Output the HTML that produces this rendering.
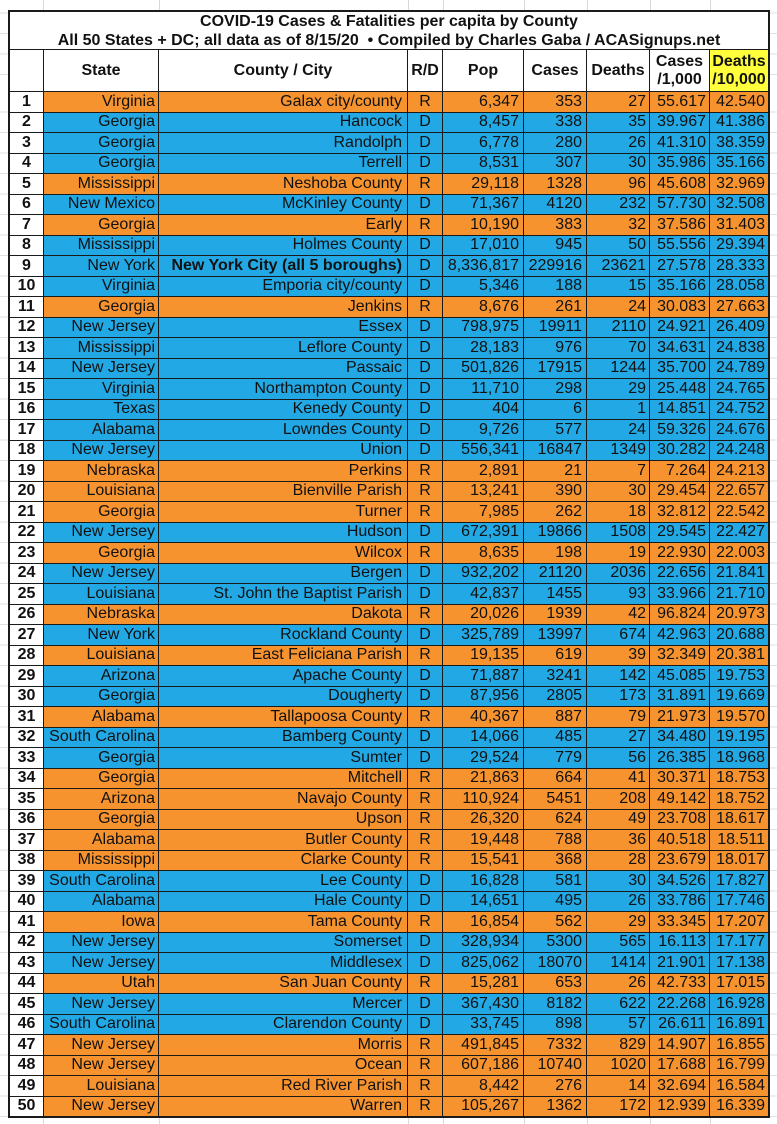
<!DOCTYPE html>
<html><head><meta charset="utf-8">
<style>
html,body{margin:0;padding:0;background:#fff;}
body{width:777px;height:1124px;position:relative;overflow:hidden;font-family:"Liberation Sans",Arial,sans-serif;color:#111;}
.g{position:absolute;background:#d9d9d9;}
#t{position:absolute;left:8px;top:10px;width:758px;height:1104px;border:2px solid #1a1a1a;background:#1a1a1a;display:grid;
grid-template-columns:33px 114px 248px 34px 80px 62px 62px 59px 58px;
grid-template-rows:37px 41px repeat(50,19.5px);gap:1px;}
#t>div.c0,#t>.r>div{background:#fff;display:flex;align-items:center;font-size:16px;white-space:nowrap;overflow:hidden;}
#t>.r{display:contents;}
#t>.r>div{justify-content:flex-end;padding-right:4px;box-sizing:border-box;}
#t>.r>div:nth-child(1){justify-content:center;padding:0;font-weight:bold;background:#fff;}
#t>.r>div:nth-child(4){justify-content:center;padding:0;}
#t>.r>div:nth-child(2){padding-right:3px;}
#t>.r>div:nth-child(3){padding-right:5px;}
#t>.r>div:nth-child(7),#t>.r>div:nth-child(8),#t>.r>div:nth-child(9){padding-right:3px;}
#t>.o>div{background:#F7932F;}
#t>.b>div{background:#22A8E4;}
#t>.o>div:nth-child(1),#t>.b>div:nth-child(1){background:#fff;}
#title{grid-column:1 / span 9;flex-direction:column;justify-content:center;text-align:center;font-weight:bold;line-height:19px;}
#t>div.h{justify-content:center;font-weight:bold;text-align:center;line-height:18px;}
#t>div.y{background:#FFFF3C;}
</style></head><body>
<div class="g" style="left:43px;top:0;width:1px;height:10px"></div>
<div class="g" style="left:159px;top:0;width:1px;height:10px"></div>
<div class="g" style="left:408px;top:0;width:1px;height:10px"></div>
<div class="g" style="left:443px;top:0;width:1px;height:10px"></div>
<div class="g" style="left:524px;top:0;width:1px;height:10px"></div>
<div class="g" style="left:587px;top:0;width:1px;height:10px"></div>
<div class="g" style="left:650px;top:0;width:1px;height:10px"></div>
<div class="g" style="left:710px;top:0;width:1px;height:10px"></div>
<div class="g" style="left:43px;top:1118px;width:1px;height:6px"></div>
<div class="g" style="left:159px;top:1118px;width:1px;height:6px"></div>
<div class="g" style="left:408px;top:1118px;width:1px;height:6px"></div>
<div class="g" style="left:443px;top:1118px;width:1px;height:6px"></div>
<div class="g" style="left:524px;top:1118px;width:1px;height:6px"></div>
<div class="g" style="left:587px;top:1118px;width:1px;height:6px"></div>
<div class="g" style="left:650px;top:1118px;width:1px;height:6px"></div>
<div class="g" style="left:710px;top:1118px;width:1px;height:6px"></div>
<div class="g" style="left:0;top:0;width:8px;height:1124px;background:repeating-linear-gradient(to bottom,transparent 0,transparent 19.5px,#d9d9d9 19.5px,#d9d9d9 20.5px);background-position:0 92px;opacity:.8"></div>
<div class="g" style="left:770px;top:0;width:7px;height:1124px;background:repeating-linear-gradient(to bottom,transparent 0,transparent 19.5px,#d9d9d9 19.5px,#d9d9d9 20.5px);background-position:0 92px;opacity:.8"></div>

<div id="t">
<div id="title" class="c0"><div>COVID-19 Cases &amp; Fatalities per capita by County</div><div>All 50 States + DC; all data as of 8/15/20&nbsp; • Compiled by Charles Gaba / ACASignups.net</div></div>
<div class="c0 h"></div><div class="c0 h">State</div><div class="c0 h">County / City</div><div class="c0 h">R/D</div><div class="c0 h">Pop</div><div class="c0 h">Cases</div><div class="c0 h">Deaths</div><div class="c0 h">Cases<br>/1,000</div><div class="c0 h y">Deaths<br>/10,000</div>

<div class="r o"><div>1</div><div>Virginia</div><div>Galax city/county</div><div>R</div><div>6,347</div><div>353</div><div>27</div><div>55.617</div><div>42.540</div></div>
<div class="r b"><div>2</div><div>Georgia</div><div>Hancock</div><div>D</div><div>8,457</div><div>338</div><div>35</div><div>39.967</div><div>41.386</div></div>
<div class="r b"><div>3</div><div>Georgia</div><div>Randolph</div><div>D</div><div>6,778</div><div>280</div><div>26</div><div>41.310</div><div>38.359</div></div>
<div class="r b"><div>4</div><div>Georgia</div><div>Terrell</div><div>D</div><div>8,531</div><div>307</div><div>30</div><div>35.986</div><div>35.166</div></div>
<div class="r o"><div>5</div><div>Mississippi</div><div>Neshoba County</div><div>R</div><div>29,118</div><div>1328</div><div>96</div><div>45.608</div><div>32.969</div></div>
<div class="r b"><div>6</div><div>New Mexico</div><div>McKinley County</div><div>D</div><div>71,367</div><div>4120</div><div>232</div><div>57.730</div><div>32.508</div></div>
<div class="r o"><div>7</div><div>Georgia</div><div>Early</div><div>R</div><div>10,190</div><div>383</div><div>32</div><div>37.586</div><div>31.403</div></div>
<div class="r b"><div>8</div><div>Mississippi</div><div>Holmes County</div><div>D</div><div>17,010</div><div>945</div><div>50</div><div>55.556</div><div>29.394</div></div>
<div class="r b"><div>9</div><div>New York</div><div style="font-weight:bold">New York City (all 5 boroughs)</div><div>D</div><div>8,336,817</div><div>229916</div><div>23621</div><div>27.578</div><div>28.333</div></div>
<div class="r b"><div>10</div><div>Virginia</div><div>Emporia city/county</div><div>D</div><div>5,346</div><div>188</div><div>15</div><div>35.166</div><div>28.058</div></div>
<div class="r o"><div>11</div><div>Georgia</div><div>Jenkins</div><div>R</div><div>8,676</div><div>261</div><div>24</div><div>30.083</div><div>27.663</div></div>
<div class="r b"><div>12</div><div>New Jersey</div><div>Essex</div><div>D</div><div>798,975</div><div>19911</div><div>2110</div><div>24.921</div><div>26.409</div></div>
<div class="r b"><div>13</div><div>Mississippi</div><div>Leflore County</div><div>D</div><div>28,183</div><div>976</div><div>70</div><div>34.631</div><div>24.838</div></div>
<div class="r b"><div>14</div><div>New Jersey</div><div>Passaic</div><div>D</div><div>501,826</div><div>17915</div><div>1244</div><div>35.700</div><div>24.789</div></div>
<div class="r b"><div>15</div><div>Virginia</div><div>Northampton County</div><div>D</div><div>11,710</div><div>298</div><div>29</div><div>25.448</div><div>24.765</div></div>
<div class="r b"><div>16</div><div>Texas</div><div>Kenedy County</div><div>D</div><div>404</div><div>6</div><div>1</div><div>14.851</div><div>24.752</div></div>
<div class="r b"><div>17</div><div>Alabama</div><div>Lowndes County</div><div>D</div><div>9,726</div><div>577</div><div>24</div><div>59.326</div><div>24.676</div></div>
<div class="r b"><div>18</div><div>New Jersey</div><div>Union</div><div>D</div><div>556,341</div><div>16847</div><div>1349</div><div>30.282</div><div>24.248</div></div>
<div class="r o"><div>19</div><div>Nebraska</div><div>Perkins</div><div>R</div><div>2,891</div><div>21</div><div>7</div><div>7.264</div><div>24.213</div></div>
<div class="r o"><div>20</div><div>Louisiana</div><div>Bienville Parish</div><div>R</div><div>13,241</div><div>390</div><div>30</div><div>29.454</div><div>22.657</div></div>
<div class="r o"><div>21</div><div>Georgia</div><div>Turner</div><div>R</div><div>7,985</div><div>262</div><div>18</div><div>32.812</div><div>22.542</div></div>
<div class="r b"><div>22</div><div>New Jersey</div><div>Hudson</div><div>D</div><div>672,391</div><div>19866</div><div>1508</div><div>29.545</div><div>22.427</div></div>
<div class="r o"><div>23</div><div>Georgia</div><div>Wilcox</div><div>R</div><div>8,635</div><div>198</div><div>19</div><div>22.930</div><div>22.003</div></div>
<div class="r b"><div>24</div><div>New Jersey</div><div>Bergen</div><div>D</div><div>932,202</div><div>21120</div><div>2036</div><div>22.656</div><div>21.841</div></div>
<div class="r b"><div>25</div><div>Louisiana</div><div>St. John the Baptist Parish</div><div>D</div><div>42,837</div><div>1455</div><div>93</div><div>33.966</div><div>21.710</div></div>
<div class="r o"><div>26</div><div>Nebraska</div><div>Dakota</div><div>R</div><div>20,026</div><div>1939</div><div>42</div><div>96.824</div><div>20.973</div></div>
<div class="r b"><div>27</div><div>New York</div><div>Rockland County</div><div>D</div><div>325,789</div><div>13997</div><div>674</div><div>42.963</div><div>20.688</div></div>
<div class="r o"><div>28</div><div>Louisiana</div><div>East Feliciana Parish</div><div>R</div><div>19,135</div><div>619</div><div>39</div><div>32.349</div><div>20.381</div></div>
<div class="r b"><div>29</div><div>Arizona</div><div>Apache County</div><div>D</div><div>71,887</div><div>3241</div><div>142</div><div>45.085</div><div>19.753</div></div>
<div class="r b"><div>30</div><div>Georgia</div><div>Dougherty</div><div>D</div><div>87,956</div><div>2805</div><div>173</div><div>31.891</div><div>19.669</div></div>
<div class="r o"><div>31</div><div>Alabama</div><div>Tallapoosa County</div><div>R</div><div>40,367</div><div>887</div><div>79</div><div>21.973</div><div>19.570</div></div>
<div class="r b"><div>32</div><div>South Carolina</div><div>Bamberg County</div><div>D</div><div>14,066</div><div>485</div><div>27</div><div>34.480</div><div>19.195</div></div>
<div class="r b"><div>33</div><div>Georgia</div><div>Sumter</div><div>D</div><div>29,524</div><div>779</div><div>56</div><div>26.385</div><div>18.968</div></div>
<div class="r o"><div>34</div><div>Georgia</div><div>Mitchell</div><div>R</div><div>21,863</div><div>664</div><div>41</div><div>30.371</div><div>18.753</div></div>
<div class="r o"><div>35</div><div>Arizona</div><div>Navajo County</div><div>R</div><div>110,924</div><div>5451</div><div>208</div><div>49.142</div><div>18.752</div></div>
<div class="r o"><div>36</div><div>Georgia</div><div>Upson</div><div>R</div><div>26,320</div><div>624</div><div>49</div><div>23.708</div><div>18.617</div></div>
<div class="r o"><div>37</div><div>Alabama</div><div>Butler County</div><div>R</div><div>19,448</div><div>788</div><div>36</div><div>40.518</div><div>18.511</div></div>
<div class="r o"><div>38</div><div>Mississippi</div><div>Clarke County</div><div>R</div><div>15,541</div><div>368</div><div>28</div><div>23.679</div><div>18.017</div></div>
<div class="r b"><div>39</div><div>South Carolina</div><div>Lee County</div><div>D</div><div>16,828</div><div>581</div><div>30</div><div>34.526</div><div>17.827</div></div>
<div class="r b"><div>40</div><div>Alabama</div><div>Hale County</div><div>D</div><div>14,651</div><div>495</div><div>26</div><div>33.786</div><div>17.746</div></div>
<div class="r o"><div>41</div><div>Iowa</div><div>Tama County</div><div>R</div><div>16,854</div><div>562</div><div>29</div><div>33.345</div><div>17.207</div></div>
<div class="r b"><div>42</div><div>New Jersey</div><div>Somerset</div><div>D</div><div>328,934</div><div>5300</div><div>565</div><div>16.113</div><div>17.177</div></div>
<div class="r b"><div>43</div><div>New Jersey</div><div>Middlesex</div><div>D</div><div>825,062</div><div>18070</div><div>1414</div><div>21.901</div><div>17.138</div></div>
<div class="r o"><div>44</div><div>Utah</div><div>San Juan County</div><div>R</div><div>15,281</div><div>653</div><div>26</div><div>42.733</div><div>17.015</div></div>
<div class="r b"><div>45</div><div>New Jersey</div><div>Mercer</div><div>D</div><div>367,430</div><div>8182</div><div>622</div><div>22.268</div><div>16.928</div></div>
<div class="r b"><div>46</div><div>South Carolina</div><div>Clarendon County</div><div>D</div><div>33,745</div><div>898</div><div>57</div><div>26.611</div><div>16.891</div></div>
<div class="r o"><div>47</div><div>New Jersey</div><div>Morris</div><div>R</div><div>491,845</div><div>7332</div><div>829</div><div>14.907</div><div>16.855</div></div>
<div class="r o"><div>48</div><div>New Jersey</div><div>Ocean</div><div>R</div><div>607,186</div><div>10740</div><div>1020</div><div>17.688</div><div>16.799</div></div>
<div class="r o"><div>49</div><div>Louisiana</div><div>Red River Parish</div><div>R</div><div>8,442</div><div>276</div><div>14</div><div>32.694</div><div>16.584</div></div>
<div class="r o"><div>50</div><div>New Jersey</div><div>Warren</div><div>R</div><div>105,267</div><div>1362</div><div>172</div><div>12.939</div><div>16.339</div></div>
</div>
</body></html>
